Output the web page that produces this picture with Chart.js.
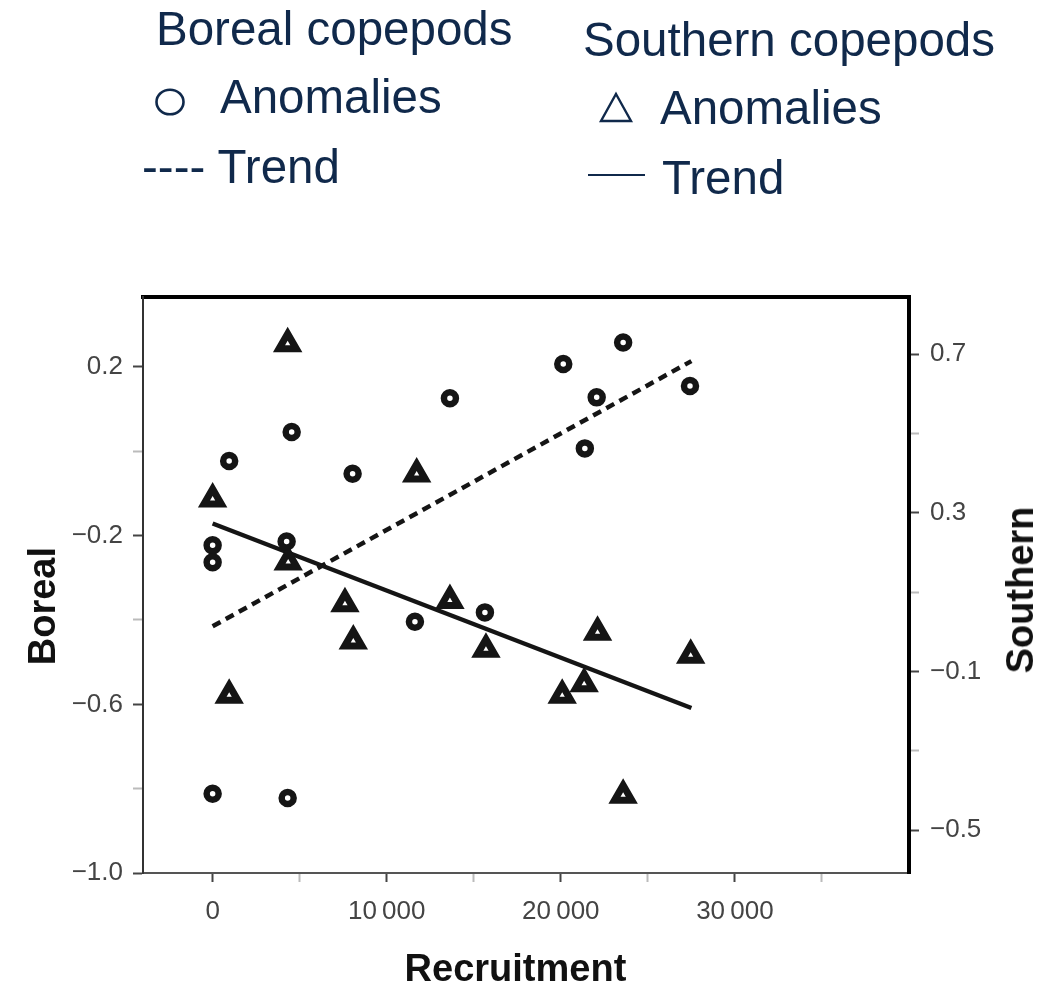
<!DOCTYPE html>
<html>
<head>
<meta charset="utf-8">
<script src="https://cdn.jsdelivr.net/npm/chart.js@4.4.1/dist/chart.umd.min.js"></script>
<style>
  html, body { margin: 0; padding: 0; background: #fff; }
  #wrap { position: relative; width: 1050px; height: 994px; overflow: hidden; }
  #chartBox { position: absolute; left: 0; top: 0; width: 1050px; height: 994px; }
  .lg { position: absolute; font-family: "Liberation Sans", Arial, sans-serif; font-size: 47.5px; line-height: 47.5px; color: #10294b; white-space: nowrap; }
  .ttl { position: absolute; font-family: "Liberation Sans", Arial, sans-serif; font-weight: bold; font-size: 38px; line-height: 38px; color: #111; white-space: nowrap; }
</style>
</head>
<body>
<div id="wrap">
  <div id="chartBox"><canvas id="c"></canvas></div>

  <div class="lg" style="left:156px; top:5px;">Boreal copepods</div>
  <svg style="position:absolute; left:154px; top:87px;" width="32" height="30"><ellipse cx="16" cy="15" rx="13.5" ry="12.3" fill="none" stroke="#10294b" stroke-width="2.6"/></svg>
  <div class="lg" style="left:220px; top:73px;">Anomalies</div>
  <div class="lg" style="left:142px; top:143px;">---- Trend</div>

  <div class="lg" style="left:583px; top:16px;">Southern copepods</div>
  <svg style="position:absolute; left:598px; top:91px;" width="36" height="33"><polygon points="18,3 33,30 3,30" fill="none" stroke="#10294b" stroke-width="2.4"/></svg>
  <div class="lg" style="left:660px; top:84px;">Anomalies</div>
  <div style="position:absolute; left:588px; top:174px; width:57px; height:2px; background:#10294b;"></div>
  <div class="lg" style="left:662px; top:154px;">Trend</div>

  <div class="ttl" style="left:1020px; top:590px; transform: translate(-50%, -50%) rotate(-90deg);">Southern</div>
</div>
<script>
// ---- data ----
const borealX = [0, 0, 0, 950, 4250, 4310, 4540, 8040, 11620, 13630, 15640, 20140, 21380, 22060, 23580, 27420];
const borealY = [-0.223, -0.263, -0.812, -0.023, -0.214, -0.822, 0.046, -0.053, -0.404, 0.126, -0.382, 0.207, 0.007, 0.128, 0.258, 0.155];

const southernX = [0, 950, 4310, 4340, 7600, 8080, 11720, 13630, 15700, 20080, 21340, 22110, 23580, 27460];
const southernY = [0.335, -0.160, 0.726, 0.176, 0.071, -0.023, 0.398, 0.079, -0.044, -0.160, -0.131, -0.001, -0.412, -0.059];

const trendX = [0, 27500];
const borealTrend = [-0.415, 0.214];
const southernTrend = [0.273, -0.192];

const xTickValues = [0, 5000, 10000, 15000, 20000, 25000, 30000, 35000];
const xTickLabels = ['0', '', '10\u2009000', '', '20\u2009000', '', '30\u2009000', ''];
const borealTickValues = [-1.0, -0.8, -0.6, -0.4, -0.2, 0.0, 0.2];
const borealTickLabels = ['\u22121.0', '', '\u22120.6', '', '\u22120.2', '', '0.2'];
const southernTickValues = [-0.5, -0.3, -0.1, 0.1, 0.3, 0.5, 0.7];
const southernTickLabels = ['\u22120.5', '', '\u22120.1', '', '0.3', '', '0.7'];

const xTitle = 'Recruitment';
const yTitle = 'Boreal';

// ---- build ----
const pts = (xs, ys) => xs.map((x, i) => ({ x: x, y: ys[i] }));
const tickFont = { family: '"Liberation Sans", Arial, sans-serif', size: 26 };
const titleFont = { family: '"Liberation Sans", Arial, sans-serif', size: 38, weight: 'bold', lineHeight: 1.0 };
const majorMinorColor = (labels) => (ctx) => (labels[ctx.index] ? '#444' : '#bbb');

new Chart(document.getElementById('c'), {
  type: 'scatter',
  data: {
    datasets: [
      {
        label: 'Boreal anomalies',
        data: pts(borealX, borealY),
        yAxisID: 'y',
        pointStyle: 'circle',
        pointRadius: 6,
        pointBorderWidth: 6.5,
        borderColor: '#151515',
        backgroundColor: '#fff',
        order: 1
      },
      {
        label: 'Southern anomalies',
        data: pts(southernX, southernY),
        yAxisID: 'y2',
        pointStyle: 'triangle',
        pointRadius: 10,
        pointBorderWidth: 7,
        borderColor: '#151515',
        backgroundColor: '#fff',
        order: 2
      },
      {
        type: 'line',
        label: 'Boreal trend',
        data: pts(trendX, borealTrend),
        yAxisID: 'y',
        borderColor: '#151515',
        borderWidth: 4.5,
        borderDash: [9, 6],
        pointRadius: 0,
        fill: false,
        order: 3
      },
      {
        type: 'line',
        label: 'Southern trend',
        data: pts(trendX, southernTrend),
        yAxisID: 'y2',
        borderColor: '#151515',
        borderWidth: 4.5,
        pointRadius: 0,
        fill: false,
        order: 4
      }
    ]
  },
  options: {
    responsive: true,
    maintainAspectRatio: false,
    animation: false,
    events: [],
    layout: { padding: { top: 297, left: 0, right: 0, bottom: 0 } },
    plugins: { legend: { display: false }, tooltip: { enabled: false } },
    scales: {
      x: {
        type: 'linear',
        position: 'bottom',
        min: -4000,
        max: 40000,
        afterBuildTicks: (s) => { s.ticks = xTickValues.map(v => ({ value: v })); },
        afterFit: (s) => { s.height = 121; },
        ticks: {
          autoSkip: false,
          maxRotation: 0,
          padding: 14,
          color: '#444',
          font: tickFont,
          callback: (v, i) => xTickLabels[i]
        },
        grid: { drawOnChartArea: false, drawTicks: true, tickLength: 9, tickWidth: 2, tickColor: majorMinorColor(xTickLabels) },
        border: { display: true, color: '#555', width: 2 },
        title: { display: true, text: xTitle + '  ', color: '#111', font: titleFont, padding: { top: 0, bottom: 4 } }
      },
      x2: {
        type: 'linear',
        position: 'top',
        min: -4000,
        max: 40000,
        afterFit: (s) => { s.height = 0; },
        ticks: { display: false },
        grid: { drawOnChartArea: false, drawTicks: false },
        border: { display: true, color: '#000', width: 4 }
      },
      y: {
        type: 'linear',
        position: 'left',
        min: -1.0,
        max: 0.366,
        afterBuildTicks: (s) => { s.ticks = borealTickValues.map(v => ({ value: v })); },
        afterFit: (s) => { s.width = 143; },
        ticks: {
          autoSkip: false,
          padding: 10,
          color: '#444',
          font: tickFont,
          callback: (v, i) => borealTickLabels[i]
        },
        grid: { drawOnChartArea: false, drawTicks: true, tickLength: 10, tickWidth: 2, tickColor: majorMinorColor(borealTickLabels) },
        border: { display: true, color: '#333', width: 2 },
        title: { display: true, text: yTitle + '    ', color: '#111', font: titleFont, padding: { top: 26, bottom: 0 } }
      },
      y2: {
        type: 'linear',
        position: 'right',
        min: -0.608,
        max: 0.844,
        afterBuildTicks: (s) => { s.ticks = southernTickValues.map(v => ({ value: v })); },
        afterFit: (s) => { s.width = 141; },
        ticks: {
          autoSkip: false,
          padding: 11,
          color: '#444',
          font: tickFont,
          callback: (v, i) => southernTickLabels[i]
        },
        grid: { drawOnChartArea: false, drawTicks: true, tickLength: 10, tickWidth: 2, tickColor: majorMinorColor(southernTickLabels) },
        border: { display: true, color: '#000', width: 4 }
      }
    }
  }
});
</script>
</body>
</html>
